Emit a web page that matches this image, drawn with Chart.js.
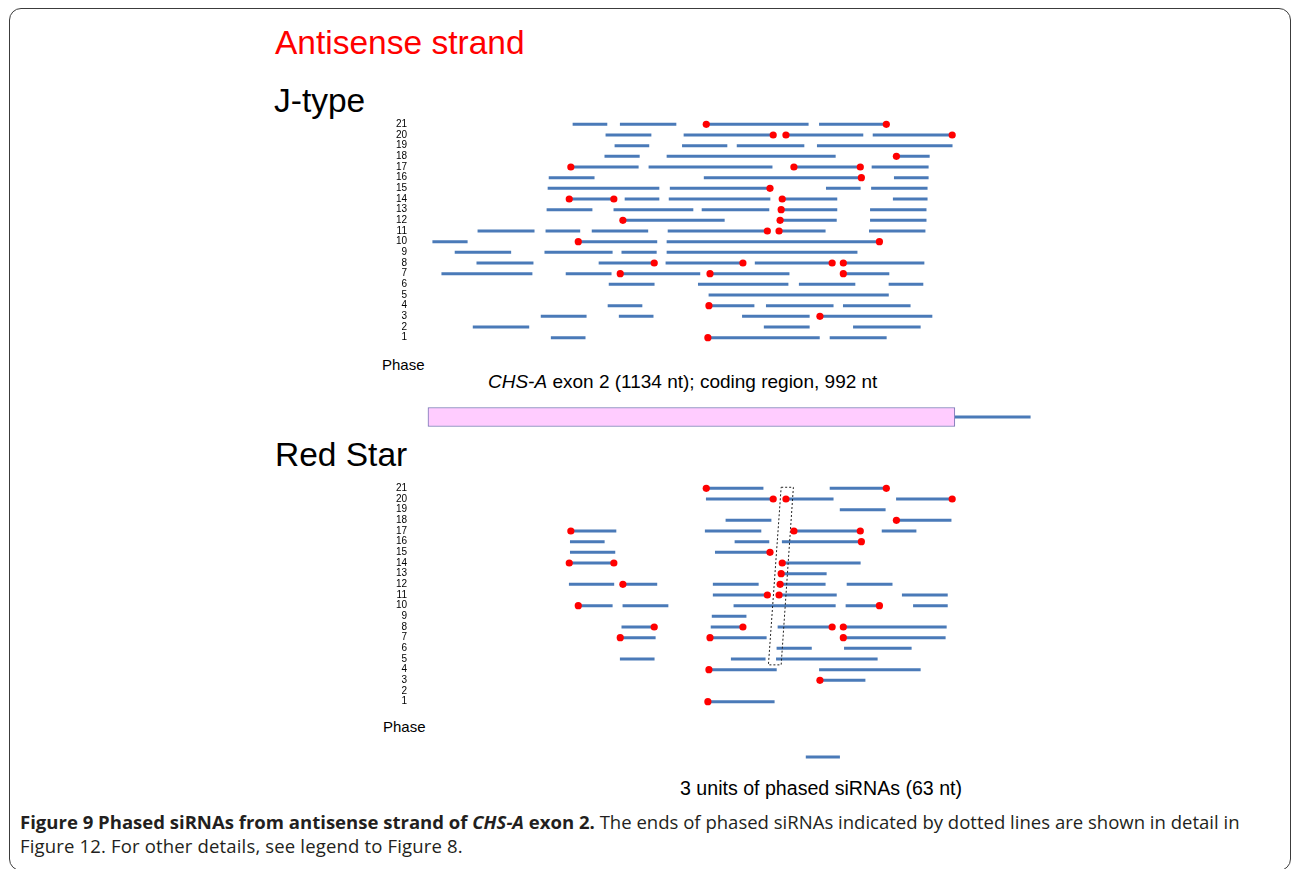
<!DOCTYPE html>
<html>
<head>
<meta charset="utf-8">
<title>Phased siRNAs - antisense strand of CHS-A exon 2</title>
<script src="https://cdn.jsdelivr.net/npm/chart.js@4.4.0/dist/chart.umd.min.js"></script>
<style>
html, body { margin: 0; padding: 0; background: #fff; }
#page { position: relative; width: 1292px; height: 869px; overflow: hidden; font-family: "Liberation Sans", Arial, sans-serif; }
.frame { position: absolute; left: 9px; top: 8px; width: 1282px; height: 863px; box-sizing: border-box; border: 1.5px solid #3c3c3c; border-radius: 12px; }
.txt { position: absolute; white-space: nowrap; line-height: 1; }
.title { font-size: 33.5px; color: #000; }
.red { color: #ff0000; }
.phase { font-size: 15px; }
.note { font-size: 19px; }
canvas { position: absolute; }
.caption { position: absolute; left: 20px; top: 810px; font-family: "Open Sans", sans-serif; font-size: 18.55px; line-height: 24px; color: #231f20; white-space: nowrap; }
</style>
</head>
<body>
<div id="page">
	<div class="frame"></div>

	<div class="txt title red" style="left:275px; top:26px;">Antisense strand</div>
	<div class="txt title" style="left:274px; top:84px;">J-type</div>
	<div class="txt title" style="left:275px; top:438px;">Red Star</div>

	<div class="txt phase" style="left:382px; top:357px;">Phase</div>
	<div class="txt phase" style="left:383px; top:719px;">Phase</div>

	<div class="txt note" style="left:488px; top:372px;"><i>CHS-A</i> exon 2 (1134 nt); coding region, 992 nt</div>
	<div class="txt note" style="left:680px; top:779px; font-size:19.6px;">3 units of phased siRNAs (63 nt)</div>

	<canvas id="chartJtype"   width="680" height="264" style="left:380px; top:99px;"></canvas>
	<canvas id="chartExon"    width="680" height="40"  style="left:380px; top:397px;"></canvas>
	<canvas id="chartRedStar" width="680" height="264" style="left:380px; top:463px;"></canvas>
	<canvas id="chartScale"   width="680" height="20"  style="left:380px; top:747px;"></canvas>

	<div class="caption"><b>Figure 9 Phased siRNAs from antisense strand of <i>CHS-A</i> exon 2.</b> The ends of phased siRNAs indicated by dotted lines are shown in detail in<br><span style="letter-spacing:0.15px">Figure 12. For other details, see legend to Figure 8.</span></div>
</div>

<script>
//========================================================//
// 데이터 (위치 단위: nt, exon 2 시작 = 0)
//--------------------------------------------------------//
const PHASES = [1,2,3,4,5,6,7,8,9,10,11,12,13,14,15,16,17,18,19,20,21];

const EXON_NT   = 1134;
const CODING_NT = 992;
const SCALE_BAR = [712, 775];   // 3 units = 63 nt

// J-type : [phase, start, end]
const JTYPE_SEGMENTS = [
	[21,273,337],[21,362,467],[21,524,716],[21,737,863],
	[20,335,420],[20,482,650],[20,674,819],[20,838,987],
	[19,352,416],[19,479,563],[19,582,708],[19,733,987],
	[18,333,398],[18,450,767],[18,882,944],
	[17,269,396],[17,416,648],[17,689,814],[17,836,942],
	[16,228,313],[16,520,816],[16,878,942],
	[15,226,435],[15,456,644],[15,750,814],[15,835,940],
	[14,266,350],[14,371,435],[14,454,644],[14,667,770],[14,876,940],
	[13,224,309],[13,350,499],[13,516,642],[13,665,770],[13,833,938],
	[12,367,558],[12,663,769],[12,833,938],
	[11,94,200],[11,222,286],[11,309,414],[11,452,639],[11,661,748],[11,831,936],
	[10,9,74],[10,283,431],[10,450,850],
	[9,51,156],[9,220,347],[9,365,430],[9,450,808],
	[8,92,198],[8,322,426],[8,448,593],[8,616,761],[8,782,934],
	[7,26,196],[7,260,345],[7,362,512],[7,531,680],[7,782,868],
	[6,341,426],[6,509,678],[6,699,804],[6,868,932],
	[5,529,867],
	[4,339,403],[4,529,614],[4,637,763],[4,782,908],
	[3,213,298],[3,360,424],[3,592,718],[3,738,949],
	[2,85,190],[2,633,718],[2,801,927],
	[1,232,296],[1,527,737],[1,757,863]
];

// J-type : 표시된 말단 [phase, position]
const JTYPE_ENDS = [
	[21,524],[21,863],
	[20,650],[20,674],[20,987],
	[18,882],
	[17,269],[17,689],[17,814],
	[16,816],
	[15,644],
	[14,266],[14,350],[14,667],
	[13,665],
	[12,367],[12,663],
	[11,639],[11,661],
	[10,283],[10,850],
	[8,426],[8,593],[8,761],[8,782],
	[7,362],[7,531],[7,782],
	[4,529],
	[3,738],
	[1,527]
];

// Red Star : [phase, start, end]
const REDSTAR_SEGMENTS = [
	[21,524,631],[21,757,863],
	[20,524,650],[20,674,763],[20,882,987],
	[19,776,861],
	[18,561,646],[18,882,985],
	[17,269,354],[17,522,627],[17,689,814],[17,855,919],
	[16,268,332],[16,578,642],[16,667,816],
	[15,268,352],[15,541,644],
	[14,266,350],[14,667,814],
	[13,665,750],
	[12,266,350],[12,367,431],[12,537,622],[12,663,748],[12,789,874],
	[11,537,639],[11,661,769],[11,893,978],
	[10,283,347],[10,367,452],[10,576,767],[10,787,850],[10,914,978],
	[9,535,599],
	[8,365,426],[8,533,593],[8,659,761],[8,782,976],
	[7,362,428],[7,531,637],[7,782,974],
	[6,657,722],[6,784,910],
	[5,362,426],[5,571,635],[5,656,846],
	[4,529,656],[4,737,927],
	[3,738,823],
	[1,527,652]
];

// Red Star : 표시된 말단 [phase, position]
const REDSTAR_ENDS = [
	[21,524],[21,863],
	[20,650],[20,674],[20,987],
	[18,882],
	[17,269],[17,689],[17,814],
	[16,816],
	[15,644],
	[14,266],[14,350],[14,667],
	[13,665],
	[12,367],[12,663],
	[11,639],[11,661],
	[10,283],[10,850],
	[8,426],[8,593],[8,761],[8,782],
	[7,362],[7,531],[7,782],
	[4,529],
	[3,738],
	[1,527]
];

// Figure 12 에 상세 표시된 말단 (점선 박스) [position, phase]
const DOTTED_BOX = [[665,21.1],[688,21.1],[665,4.45],[641,4.45],[665,21.1]];

//========================================================//
// 공통 설정
//--------------------------------------------------------//
const X_MIN = -15, X_MAX = 1190;
const BLUE  = '#4a7ab8';
const RED   = '#ff0000';

const xScale = { type: 'linear', display: false, min: X_MIN, max: X_MAX, offset: false };

const baseOptions = {
	indexAxis:  'y',
	responsive: false,
	animation:  false,
	events:     [],
	plugins: { legend: { display: false }, tooltip: { enabled: false } }
};

// Phase 차트 생성
let _drawPhaseChart = function(id, segments, ends, extra) {
	let datasets = [{
		type: 'scatter',
		data: ends.map(e => ({ x: e[1], y: e[0] })),
		pointRadius: 3.6,
		pointBackgroundColor: RED,
		pointBorderWidth: 0,
		order: 0
	}, {
		type: 'bar',
		data: segments.map(s => ({ y: s[0], x: [s[1], s[2]] })),
		backgroundColor: BLUE,
		borderWidth: 0,
		barThickness: 2.4,
		grouped: false,
		order: 2
	}].concat(extra || []);

	return new Chart(document.getElementById(id), {
		type: 'bar',
		data: { datasets: datasets },
		options: Object.assign({}, baseOptions, {
			// 눈금 padding(13) + 글자 높이/2 보다 크게 → 차트 영역 = 캔버스 안쪽 20px
			layout: { autoPadding: false, padding: { top: 20, bottom: 20, left: 0, right: 0 } },
			scales: {
				x: xScale,
				y: {
					type: 'linear', min: 0.5, max: 21.5, offset: false,
					afterFit: function(s) { s.width = 40; },
					afterBuildTicks: function(s) { s.ticks = PHASES.map(v => ({ value: v })); },
					grid:   { display: false, drawTicks: false },
					border: { display: false },
					ticks:  { autoSkip: false, padding: 13, color: '#000',
					          font: { family: 'Liberation Sans', size: 10 } }
				}
			}
		})
	});
};

// 가로 트랙 (exon 도식, 스케일 바)
let _drawTrack = function(id, datasets) {
	return new Chart(document.getElementById(id), {
		type: 'bar',
		data: { datasets: datasets },
		options: Object.assign({}, baseOptions, {
			layout: { autoPadding: false, padding: { top: 0, bottom: 0, left: 40, right: 0 } },
			scales: {
				x: xScale,
				y: { type: 'linear', display: false, min: 0, max: 1, offset: false }
			}
		})
	});
};

//========================================================//
// 그리기
//--------------------------------------------------------//
_drawPhaseChart('chartJtype', JTYPE_SEGMENTS, JTYPE_ENDS);

_drawTrack('chartExon', [{
	data: [{ y: 0.5, x: [0, CODING_NT] }],
	backgroundColor: '#ffccff',
	borderColor: '#7676b4',
	borderWidth: 1,
	borderSkipped: false,
	barThickness: 19,
	grouped: false
}, {
	data: [{ y: 0.5, x: [CODING_NT, EXON_NT] }],
	backgroundColor: BLUE,
	borderWidth: 0,
	barThickness: 2.4,
	grouped: false
}]);

_drawPhaseChart('chartRedStar', REDSTAR_SEGMENTS, REDSTAR_ENDS, [{
	type: 'line',
	data: DOTTED_BOX.map(p => ({ x: p[0], y: p[1] })),
	borderColor: '#222',
	borderWidth: 1,
	borderDash: [2, 2],
	pointRadius: 0,
	fill: false,
	tension: 0,
	order: 1
}]);

_drawTrack('chartScale', [{
	data: [{ y: 0.5, x: SCALE_BAR }],
	backgroundColor: BLUE,
	borderWidth: 0,
	barThickness: 2.4,
	grouped: false
}]);
</script>
</body>
</html>
